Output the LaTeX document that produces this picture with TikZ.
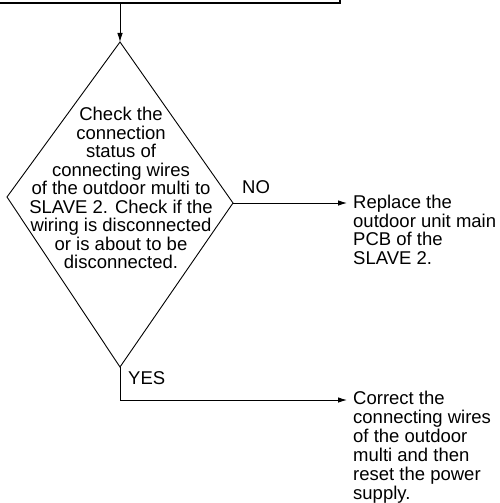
\documentclass[tikz,border=0pt]{standalone}
\usepackage{fontspec}
\setmainfont{Liberation Sans}
\usetikzlibrary{arrows.meta}
\begin{document}
\begin{tikzpicture}[x=1pt,y=-1pt,
  line/.style={draw=black,line width=0.9pt},
  arr/.style={line,-{Latex[length=9pt,width=5.5pt]}},
  txt/.style={font=\fontsize{18.5}{18.5}\selectfont,inner sep=0pt,align=left},
  txtb/.style={font=\fontsize{18.5}{19}\selectfont,inner sep=0pt,align=left},
  ctxt/.style={font=\fontsize{18.5}{18.5}\selectfont,inner sep=0pt,align=center},
  lbl/.style={font=\fontsize{18.5}{18.5}\selectfont,inner sep=0pt}]
\useasboundingbox (0,0) rectangle (500,503);
\clip (0,0) rectangle (500,503);
% top box (cut off)
\draw[line,line width=1.3pt] (-5,-20) rectangle (340,3);
\coordinate (boxbot) at (120,3);
% diamond
\coordinate (dtop) at (120,42);
\coordinate (dleft) at (7,197);
\coordinate (dright) at (233,203);
\coordinate (dbot) at (120,367);
\draw[line] (dtop) -- (dright) -- (dbot) -- (dleft) -- cycle;
\node[ctxt,anchor=north] (check) at (121,107) {Check the\\connection\\status of\\connecting wires\\of the outdoor multi to\\SLAVE 2. Check if the\\wiring is disconnected\\or is about to be\\disconnected.};
\draw[arr] (boxbot) -- (dtop);
% NO branch
\coordinate (noend) at (347,203);
\draw[arr] (dright) -- (noend);
\node[lbl,anchor=west] (nolbl) at (242,187) {NO};
\node[txt,anchor=north west] (replace) at (353,195) {Replace the\\outdoor unit main\\PCB of the\\SLAVE 2.};
% YES branch
\coordinate (ycorner) at (120,400);
\coordinate (yesend) at (347,400);
\draw[arr] (dbot) -- (ycorner) -- (yesend);
\node[lbl,anchor=west] (yeslbl) at (128,378) {YES};
\node[txtb,anchor=north west] (correct) at (353,391) {Correct the\\connecting wires\\of the outdoor\\multi and then\\reset the power\\supply.};
\end{tikzpicture}
\end{document}
